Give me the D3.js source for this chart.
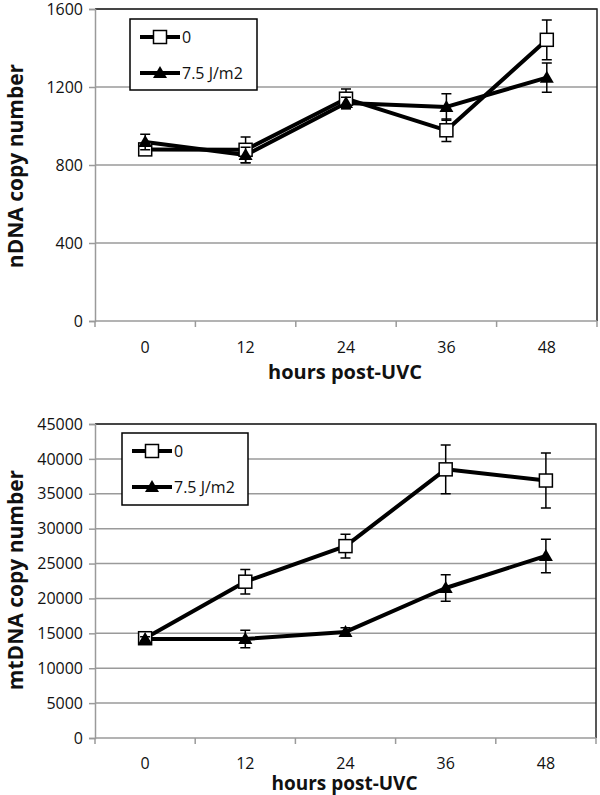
<!DOCTYPE html>
<html><head><meta charset="utf-8">
<script src="https://cdn.jsdelivr.net/npm/d3@7"></script>
<style>body{margin:0;background:#fff}svg{display:block}text{font-family:"Open Sans",sans-serif}</style>
</head><body><svg id="c" width="600" height="795"></svg>
<script>
const hours = ["0","12","24","36","48"];
const seriesNames = ["0","7.5 J/m2"];
// nDNA panel
const nCtrl = [880, 878, 1140, 978, 1442];
const nCtrlErr = [20, 66, 50, 58, 102];
const nUV = [918, 851, 1118, 1098, 1248];
const nUVErr = [40, 40, 30, 68, 75];
const nTicks = [0, 400, 800, 1200, 1600];
// mtDNA panel
const mCtrl = [14300, 22400, 27500, 38500, 36900];
const mCtrlErr = [300, 1750, 1700, 3500, 3950];
const mUV = [14200, 14200, 15200, 21500, 26100];
const mUVErr = [300, 1250, 600, 1900, 2400];
const mTicks = [0, 5000, 10000, 15000, 20000, 25000, 30000, 35000, 40000, 45000];

const svg = d3.select("#c");

function panel(cfg){
  const g = svg.append("g");
  const x = d3.scalePoint().domain(hours).range([cfg.left, cfg.right]).padding(0.5);
  const step = x.step();
  const y = d3.scaleLinear().domain([0, cfg.max]).range([cfg.bottom, cfg.top]);
  // gridlines
  g.selectAll(".grid").data(cfg.ticks.slice(1)).join("line")
    .attr("x1", cfg.left).attr("x2", cfg.right)
    .attr("y1", d=>y(d)).attr("y2", d=>y(d))
    .attr("stroke", "#9a9a9a").attr("stroke-width", 1.5);
  // top and right border
  g.append("path").attr("d", `M${cfg.left},${cfg.top}H${cfg.right}V${cfg.bottom}`)
    .attr("fill","none").attr("stroke","#222").attr("stroke-width",1.5);
  // y axis
  const ya = d3.axisLeft(y).tickValues(cfg.ticks).tickSize(6).tickPadding(6).tickFormat(d3.format("d"));
  const yg = g.append("g").attr("transform", `translate(${cfg.left},0)`).call(ya);
  yg.select(".domain").attr("stroke","#9a9a9a").attr("stroke-width",1.5);
  yg.selectAll(".tick line").attr("stroke","#9a9a9a").attr("stroke-width",1.5);
  yg.selectAll("text").attr("font-size",16).attr("fill","#111").attr("font-family","'Open Sans',sans-serif");
  // x axis
  const bounds = hours.map(h=>x(h)-step/2).concat([x(hours[hours.length-1])+step/2]);
  g.append("line").attr("x1",cfg.left).attr("x2",cfg.right).attr("y1",cfg.bottom).attr("y2",cfg.bottom)
    .attr("stroke","#9a9a9a").attr("stroke-width",1.5);
  g.selectAll(".xt").data(bounds).join("line")
    .attr("x1",d=>d).attr("x2",d=>d).attr("y1",cfg.bottom).attr("y2",cfg.bottom+6)
    .attr("stroke","#9a9a9a").attr("stroke-width",1.5);
  g.selectAll(".xl").data(hours).join("text")
    .attr("x",d=>x(d)).attr("y",cfg.xLabelY).attr("text-anchor","middle")
    .attr("font-size",16).attr("fill","#111").text(d=>d);
  g.append("text").attr("x",(cfg.left+cfg.right)/2 - 1).attr("y",cfg.xTitleY).attr("text-anchor","middle")
    .attr("font-size",cfg.xTitleSize).attr("font-weight","bold").attr("fill","#111").text("hours post-UVC");
  g.append("text").attr("transform",`translate(23,${cfg.yTitleC}) rotate(-90)`).attr("text-anchor","middle")
    .attr("font-size",21).attr("font-weight","bold").attr("fill","#111").text(cfg.yTitle);

  const line = d3.line().x((d,i)=>x(hours[i])).y(d=>y(d));
  const series = [
    {vals: cfg.ctrl, err: cfg.ctrlErr, shape:"sq"},
    {vals: cfg.uv, err: cfg.uvErr, shape:"tri"}
  ];
  series.forEach(s=>{
    g.append("path").datum(s.vals).attr("d", line).attr("fill","none")
      .attr("stroke","#000").attr("stroke-width",4).attr("stroke-linejoin","round");
  });
  series.forEach(s=>{
    const eg = g.append("g");
    s.vals.forEach((v,i)=>{
      const cx = x(hours[i]);
      const y1 = y(v+s.err[i]), y2 = y(v-s.err[i]);
      eg.append("path").attr("d",`M${cx},${y1}V${y2}M${cx-5},${y1}H${cx+5}M${cx-5},${y2}H${cx+5}`)
        .attr("stroke","#000").attr("stroke-width",1.5).attr("fill","none");
    });
    s.vals.forEach((v,i)=>{
      const cx = x(hours[i]), cy = y(v);
      drawMarker(g, s.shape, cx, cy);
    });
  });
  // legend
  const L = cfg.legend;
  g.append("rect").attr("x",L.x).attr("y",L.y).attr("width",L.w).attr("height",L.h)
    .attr("fill","#fff").attr("stroke","#000").attr("stroke-width",1.5);
  seriesNames.forEach((nm,i)=>{
    const ly = L.y + 18 + i*36;
    g.append("line").attr("x1",L.x+10).attr("x2",L.x+50).attr("y1",ly).attr("y2",ly)
      .attr("stroke","#000").attr("stroke-width",4);
    drawMarker(g, i===0?"sq":"tri", L.x+30, ly);
    g.append("text").attr("x",L.x+52).attr("y",ly+5.5).attr("font-size",16).attr("fill","#111").text(nm);
  });
}
function drawMarker(g, shape, cx, cy){
  if(shape==="sq"){
    g.append("rect").attr("x",cx-6.5).attr("y",cy-6.5).attr("width",13).attr("height",13)
      .attr("fill","#fff").attr("stroke","#000").attr("stroke-width",1.5);
  } else {
    g.append("path").attr("d",`M${cx},${cy-7}L${cx+7},${cy+5}L${cx-7},${cy+5}Z`).attr("fill","#000");
  }
}

panel({left:95, right:597, top:9, bottom:321, max:1600, ticks:nTicks,
  ctrl:nCtrl, ctrlErr:nCtrlErr, uv:nUV, uvErr:nUVErr,
  xLabelY:353, xTitleY:379, xTitleSize:20, yTitle:"nDNA copy number", yTitleC:166,
  legend:{x:130,y:19,w:127,h:71}});
panel({left:95, right:596, top:424, bottom:738, max:45000, ticks:mTicks,
  ctrl:mCtrl, ctrlErr:mCtrlErr, uv:mUV, uvErr:mUVErr,
  xLabelY:769, xTitleY:790, xTitleSize:19, yTitle:"mtDNA copy number", yTitleC:580,
  legend:{x:122,y:433,w:126,h:72}});
</script></body></html>
